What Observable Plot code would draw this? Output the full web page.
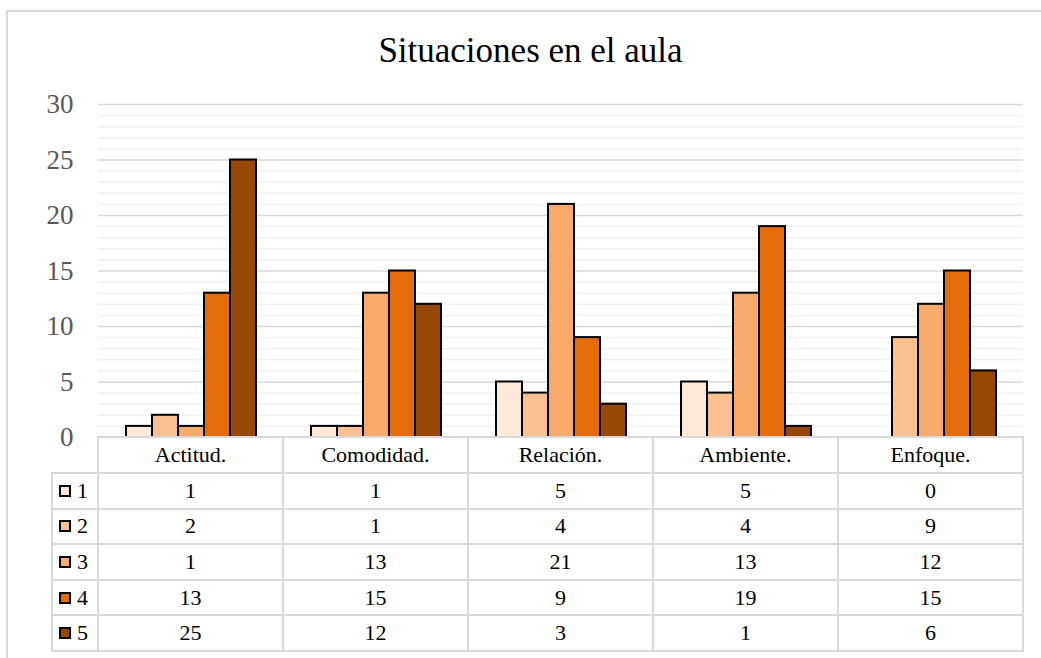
<!DOCTYPE html>
<html><head><meta charset="utf-8">
<script src="https://cdn.jsdelivr.net/npm/d3@7"></script>
<script src="https://cdn.jsdelivr.net/npm/@observablehq/plot@0.6"></script>
<style>
body{margin:0;background:#fff;}
#wrap{position:relative;width:1041px;height:658px;overflow:hidden;font-family:"Liberation Serif","Times New Roman",serif;background:#fff;}
#frame{position:absolute;left:6px;top:10px;width:1100px;height:700px;border-left:2px solid #d9d9d9;border-top:2px solid #d9d9d9;box-sizing:border-box;}
#title{position:absolute;left:0;width:1061px;top:33px;text-align:center;font-family:"Liberation Serif",serif;font-size:35px;line-height:35px;color:#000;}
#chart{position:absolute;left:0;top:0;}
#chart svg text{font-family:"Liberation Serif",serif;}
.hl{position:absolute;height:2px;background:#d9d9d9;}
.vl{position:absolute;width:2px;background:#d9d9d9;}
.cell{position:absolute;display:flex;align-items:center;justify-content:center;font-family:"Liberation Serif",serif;font-size:22px;color:#000;line-height:1;}
.leg{position:absolute;display:flex;align-items:center;font-family:"Liberation Serif",serif;font-size:22px;color:#000;line-height:1;}
.key{width:8px;height:8px;border:2px solid #000;margin-right:6px;}
</style>
</head><body>
<div id="wrap">
  <div id="frame"></div>
  <div id="chart"></div>
  <div id="title">Situaciones en el aula</div>
</div>
<script>
const categories = ["Actitud.", "Comodidad.", "Relación.", "Ambiente.", "Enfoque."];
const series = ["1", "2", "3", "4", "5"];
const values1 = [1, 1, 5, 5, 0];
const values2 = [2, 1, 4, 4, 9];
const values3 = [1, 13, 21, 13, 12];
const values4 = [13, 15, 9, 19, 15];
const values5 = [25, 12, 3, 1, 6];
const colors = ["#fde9d9", "#fac090", "#f7aa6c", "#e46c0a", "#974706"];
const yTicks = [0, 5, 10, 15, 20, 25, 30];

const seriesValues = [values1, values2, values3, values4, values5];
const data = [];
series.forEach((s, i) => categories.forEach((c, j) => data.push({cat: c, series: s, value: seriesValues[i][j]})));

const minorTicks = d3.range(0, 31).filter(v => v % 5 !== 0);

const chart = Plot.plot({
  width: 1041,
  height: 470,
  marginLeft: 96,
  marginRight: 16,
  marginTop: 104,
  marginBottom: 33,
  style: {fontFamily: '"Liberation Serif",serif', background: "transparent"},
  fx: {domain: categories, padding: 0, axis: null},
  x: {domain: series, paddingInner: 0, paddingOuter: 1, axis: null},
  y: {domain: [0, 30], axis: null},
  color: {domain: series, range: colors},
  marks: [
    Plot.ruleY(minorTicks, {stroke: "#f2f2f2", strokeWidth: 1.5}),
    Plot.ruleY(yTicks.filter(v => v > 0), {stroke: "#d9d9d9", strokeWidth: 1.5}),
    Plot.barY(data, {filter: d => d.value > 0, fx: "cat", x: "series", y: "value", fill: "series", stroke: "#000", strokeWidth: 2}),
    Plot.axisY({ticks: yTicks, tickSize: 0, tickPadding: 25, fontSize: 27, color: "#595959", label: null})
  ]
});
document.getElementById("chart").appendChild(chart);

// data table below the plot
const wrap = document.getElementById("wrap");
const fx = chart.scale("fx");
const yS = chart.scale("y");
const colX = categories.map(c => fx.apply(c));
const bw = fx.bandwidth;
const left = colX[0];
const right = colX[colX.length - 1] + bw;
const legLeft = 52;
const top0 = yS.apply(0);
const headerH = 36;
const rowH = 35.6;
const rowTops = [top0, ...series.map((s, i) => top0 + headerH + i * rowH)];
const bottom = top0 + headerH + series.length * rowH;

function add(cls, style, text) {
  const d = document.createElement("div");
  d.className = cls;
  Object.assign(d.style, style);
  if (text != null) d.textContent = text;
  wrap.appendChild(d);
  return d;
}
// horizontal lines
rowTops.forEach((y, i) => {
  const x0 = i === 0 ? left - 1 : legLeft;
  add("hl", {left: x0 + "px", top: (y - 1) + "px", width: (right - x0 + 1) + "px"});
});
add("hl", {left: legLeft + "px", top: (bottom - 1) + "px", width: (right - legLeft + 1) + "px"});
// vertical lines
add("vl", {left: (legLeft - 1) + "px", top: (rowTops[1] - 1) + "px", height: (bottom - rowTops[1] + 1) + "px"});
colX.concat([right]).forEach(x => add("vl", {left: (x - 1) + "px", top: (top0 - 1) + "px", height: (bottom - top0 + 1) + "px"}));
// header
categories.forEach((c, j) => add("cell", {left: colX[j] + "px", top: top0 + "px", width: bw + "px", height: headerH + "px"}, c));
// rows
series.forEach((s, i) => {
  const y = rowTops[i + 1];
  const leg = add("leg", {left: (legLeft + 7) + "px", top: y + "px", height: rowH + "px"});
  const k = document.createElement("div");
  k.className = "key";
  k.style.background = colors[i];
  leg.appendChild(k);
  leg.appendChild(document.createTextNode(s));
  categories.forEach((c, j) => add("cell", {left: colX[j] + "px", top: y + "px", width: bw + "px", height: rowH + "px"}, String(seriesValues[i][j])));
});
</script>
</body></html>
